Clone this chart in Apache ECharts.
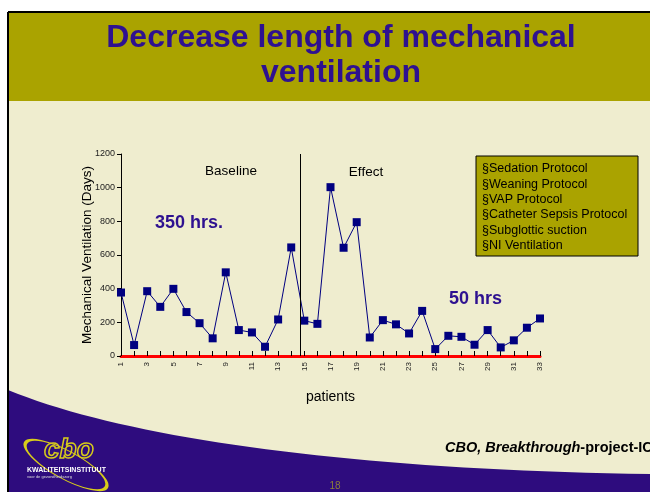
<!DOCTYPE html>
<html>
<head>
<meta charset="utf-8">
<script src="https://cdn.jsdelivr.net/npm/echarts@6/dist/echarts.min.js"></script>
<style>
  html, body { margin: 0; padding: 0; background: #fff; }
  #chart { width: 650px; height: 492px; }
</style>
</head>
<body>
<div id="chart"></div>
<script>
// patients 1..33, days of mechanical ventilation
var patients = [1, 2, 3, 4, 5, 6, 7, 8, 9, 10, 11, 12, 13, 14, 15, 16, 17,
  18, 19, 20, 21, 22, 23, 24, 25, 26, 27, 28, 29, 30, 31, 32, 33]
var ventDays = [377, 65, 385, 292, 399, 261, 195, 105, 497, 154, 140, 55, 217, 645,
  210, 191, 1003, 643, 795, 110, 213, 188, 134, 268, 41, 120, 114, 67, 154, 51, 93, 168, 223]
var yTicks = [0, 200, 400, 600, 800, 1000, 1200]
var splitAt = 14.7 // baseline / effect boundary
var protocols = ['§Sedation Protocol', '§Weaning Protocol', '§VAP Protocol',
  '§Catheter Sepsis Protocol', '§Subglottic suction', '§NI Ventilation']

var purple = '#2e0c7e'
var olive = '#aaa300'
var cream = '#efedcf'
var font = 'Liberation Sans, Arial, sans-serif'

// bottom swoosh outline (slide decoration, cubic curve sampled)
function swoosh() {
  var p0 = [8, 390], c1 = [130, 440], c2 = [360, 470], p3 = [650, 474]
  var pts = []
  for (var k = 0; k <= 40; k++) {
    var t = k / 40, u = 1 - t
    pts.push([
      u * u * u * p0[0] + 3 * u * u * t * c1[0] + 3 * u * t * t * c2[0] + t * t * t * p3[0],
      u * u * u * p0[1] + 3 * u * u * t * c1[1] + 3 * u * t * t * c2[1] + t * t * t * p3[1]
    ])
  }
  pts.push([650, 492], [8, 492])
  return pts
}

var chart = echarts.init(document.getElementById('chart'))
chart.setOption({
  backgroundColor: cream,
  textStyle: { fontFamily: font },
  animation: false,
  graphic: [
    // white margin + slide frame
    { type: 'rect', z: -5, shape: { x: 0, y: 0, width: 650, height: 12 }, style: { fill: '#fff' } },
    { type: 'rect', z: -5, shape: { x: 0, y: 0, width: 8, height: 492 }, style: { fill: '#fff' } },
    { type: 'rect', z: -4, shape: { x: 8, y: 12, width: 650, height: 89 }, style: { fill: olive } },
    { type: 'polygon', z: -4, shape: { points: swoosh() }, style: { fill: purple } },
    { type: 'line', z: -2, shape: { x1: 8, y1: 12, x2: 650, y2: 12 }, style: { stroke: '#000', lineWidth: 2 } },
    { type: 'line', z: -2, shape: { x1: 8, y1: 12, x2: 8, y2: 492 }, style: { stroke: '#000', lineWidth: 2 } },
    {
      type: 'text',
      style: {
        x: 341, y: 21,
        text: 'Decrease length of mechanical\nventilation',
        font: 'bold 32px ' + font, fill: '#2e1190', align: 'center', lineHeight: 35
      }
    },
    // protocol box
    { type: 'rect', shape: { x: 476, y: 156, width: 162, height: 100 }, style: { fill: olive, stroke: '#000', lineWidth: 1 } },
    { type: 'text', style: { x: 482, y: 161, text: protocols.join('\n'), font: '12.5px ' + font, fill: '#000', lineHeight: 15.4 } },
    // annotations
    { type: 'text', style: { x: 231, y: 171, text: 'Baseline', font: '13.5px ' + font, fill: '#000', align: 'center', verticalAlign: 'middle' } },
    { type: 'text', style: { x: 366, y: 172, text: 'Effect', font: '13.5px ' + font, fill: '#000', align: 'center', verticalAlign: 'middle' } },
    { type: 'text', style: { x: 155, y: 223, text: '350 hrs.', font: 'bold 18px ' + font, fill: '#2e1190', verticalAlign: 'middle' } },
    { type: 'text', style: { x: 449, y: 299, text: '50 hrs', font: 'bold 18px ' + font, fill: '#2e1190', verticalAlign: 'middle' } },
    // footer
    {
      type: 'text', style: {
        x: 445, y: 448, verticalAlign: 'middle',
        rich: {
          i: { font: 'italic bold 14.5px ' + font, fill: '#000' },
          b: { font: 'bold 14.5px ' + font, fill: '#000' }
        },
        text: '{i|CBO, Breakthrough}{b|-project-IC}'
      }
    },
    { type: 'text', style: { x: 335, y: 486, text: '18', font: '10px ' + font, fill: '#8c7f3a', align: 'center', verticalAlign: 'middle' } },
    // logo
    { type: 'circle', rotation: -0.5, x: 66, y: 465, scaleX: 1, scaleY: 0.3, shape: { cx: 0, cy: 0, r: 46 }, style: { fill: 'none', stroke: '#d8cc1a', lineWidth: 2, strokeNoScale: true } },
    { type: 'text', style: { x: 44, y: 450, text: 'cbo', font: 'italic bold 28px ' + font, fill: 'none', stroke: '#d8cc1a', lineWidth: 1.5, verticalAlign: 'middle' } },
    { type: 'text', style: { x: 27, y: 470, text: 'KWALITEITSINSTITUUT', font: 'bold 7px ' + font, fill: '#fff', verticalAlign: 'middle' } },
    { type: 'text', style: { x: 27, y: 477, text: 'voor de gezondheidszorg', font: '4px ' + font, fill: '#ddd', verticalAlign: 'middle' } }
  ],
  grid: { left: 121, right: 110, top: 154, bottom: 136 },
  xAxis: {
    type: 'value',
    min: 1,
    max: 33,
    interval: 1,
    name: 'patients',
    nameLocation: 'middle',
    nameGap: 34,
    nameTextStyle: { fontSize: 14, color: '#000' },
    axisLine: { lineStyle: { color: '#ff0000', width: 3 } },
    axisTick: { inside: true, length: 5, lineStyle: { color: '#000' } },
    splitLine: { show: false },
    axisLabel: {
      rotate: 90, fontSize: 8, color: '#222', margin: 6,
      formatter: function (v) { return v % 2 === 1 ? String(v) : '' }
    }
  },
  yAxis: {
    type: 'value',
    min: yTicks[0],
    max: yTicks[yTicks.length - 1],
    interval: 200,
    name: 'Mechanical Ventilation (Days)',
    nameLocation: 'middle',
    nameGap: 27,
    nameMoveOverlap: false,
    nameTextStyle: { fontSize: 13.5, color: '#000' },
    axisLine: { show: true, lineStyle: { color: '#000' } },
    axisTick: { show: true, length: 4, lineStyle: { color: '#000' } },
    splitLine: { show: false },
    axisLabel: { fontSize: 9, color: '#222', margin: 6, formatter: function (v) { return String(v) } }
  },
  series: [{
    type: 'line',
    data: patients.map(function (p, i) { return [p, ventDays[i]] }),
    symbol: 'rect',
    symbolSize: 8,
    lineStyle: { color: '#000080', width: 1 },
    itemStyle: { color: '#000080' },
    markLine: {
      silent: true,
      symbol: 'none',
      label: { show: false },
      lineStyle: { color: '#000', width: 1, type: 'solid' },
      data: [{ xAxis: splitAt }]
    }
  }]
})
</script>
</body>
</html>
